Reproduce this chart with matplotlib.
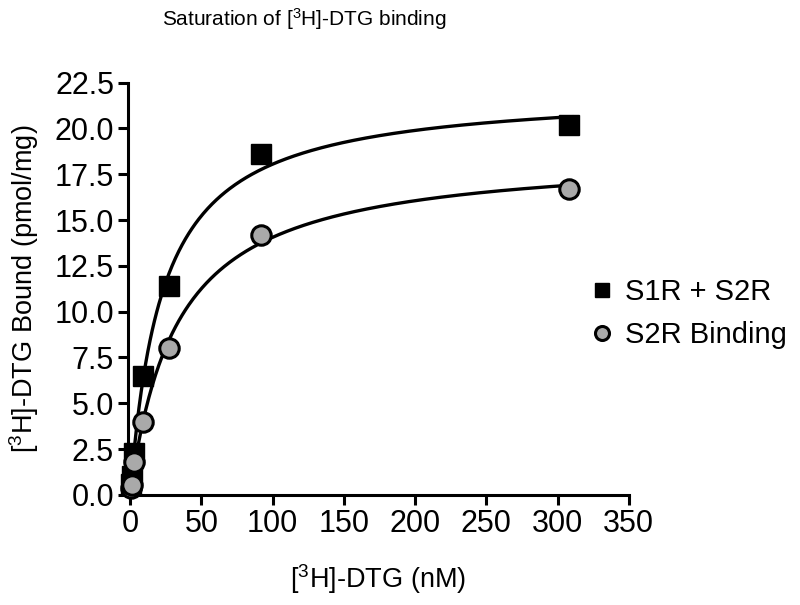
import matplotlib
matplotlib.use("Agg")
import matplotlib.pyplot as plt
import numpy as np

# ---------------------------------------------------------------------------
# Data
# ---------------------------------------------------------------------------
conc_nm = np.array([0.3, 1.0, 2.7, 9.0, 27.0, 92.0, 308.0])
total_bound = np.array([0.6, 1.05, 2.3, 6.5, 11.4, 18.6, 20.2])   # S1R + S2R
s2r_bound = np.array([0.4, 0.55, 1.8, 4.0, 8.0, 14.2, 16.7])      # S2R binding

x_ticks = [0, 50, 100, 150, 200, 250, 300, 350]
y_ticks = [0.0, 2.5, 5.0, 7.5, 10.0, 12.5, 15.0, 17.5, 20.0, 22.5]


def fit_one_site(x, y):
    """One-site saturation fit y = Bmax*x/(Kd+x); grid over Kd, Bmax by LSQ."""
    best = None
    for kd in np.linspace(1, 100, 2000):
        f = x / (kd + x)
        bmax = np.dot(f, y) / np.dot(f, f)
        sse = np.sum((y - bmax * f) ** 2)
        if best is None or sse < best[0]:
            best = (sse, bmax, kd)
    return best[1], best[2]


plt.rcParams["font.family"] = ["Liberation Sans", "DejaVu Sans"]
plt.rcParams["mathtext.default"] = "regular"

fig = plt.figure(figsize=(8.0, 6.05), dpi=100)
ax = fig.add_axes([0.16, 0.182, 0.626, 0.6815])

xs = np.linspace(0, 310, 400)
for y, kw in [
    (total_bound, dict(marker="s", color="black", mfc="black", mec="black",
                       label="S1R + S2R")),
    (s2r_bound, dict(marker="o", color="black", mfc="#a9a9a9", mec="black",
                     mew=2.2, label="S2R Binding")),
]:
    bmax, kd = fit_one_site(conc_nm, y)
    ax.plot(xs, bmax * xs / (kd + xs), color="black", lw=2.4, zorder=2)
    ax.plot(conc_nm, y, ls="none", ms=14, zorder=3, clip_on=False, **kw)

ax.set_xlim(-1.5, 350)
ax.set_ylim(0, 22.5)
ax.set_xticks(x_ticks)
ax.set_yticks(y_ticks)
ax.set_yticklabels([f"{v:.1f}" for v in y_ticks])

for side in ("top", "right"):
    ax.spines[side].set_visible(False)
for side in ("left", "bottom"):
    ax.spines[side].set_linewidth(2.2)
ax.tick_params(width=2.2, length=7, labelsize=22, pad=3)

ax.set_xlabel(r"[$^{3}$H]-DTG (nM)", fontsize=19.5, labelpad=17)
ax.set_ylabel(r"[$^{3}$H]-DTG Bound (pmol/mg)", fontsize=19.5, labelpad=10)
fig.text(0.38, 0.968, r"Saturation of [$^{3}$H]-DTG binding", fontsize=15,
         ha="center", va="center")

ax.legend(loc="center left", bbox_to_anchor=(0.87, 0.44), frameon=False,
          fontsize=21, handlelength=0.8, handletextpad=0.4, labelspacing=0.5,
          markerscale=0.72)

fig.savefig("out.png", dpi=100)
